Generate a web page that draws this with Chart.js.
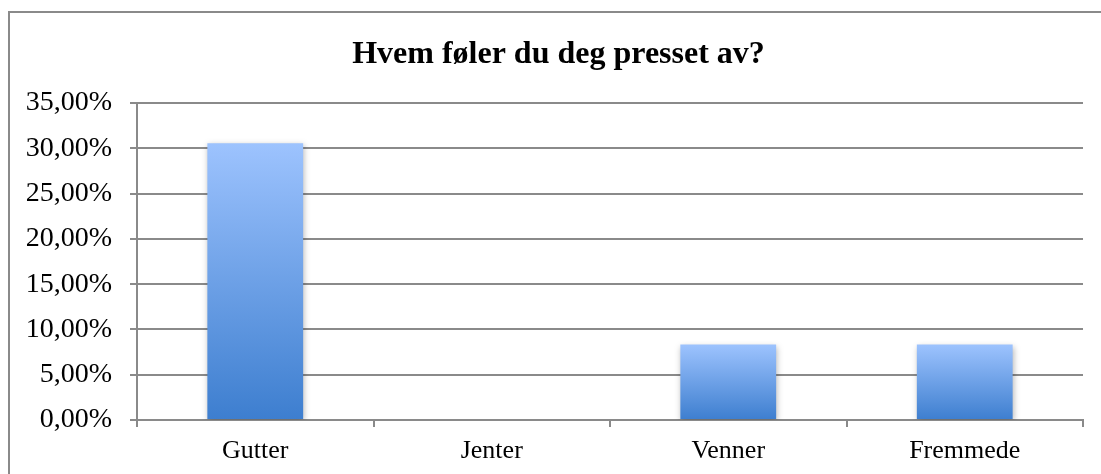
<!DOCTYPE html>
<html>
<head>
<meta charset="utf-8">
<script src="https://cdn.jsdelivr.net/npm/chart.js@4/dist/chart.umd.min.js"></script>
<style>
  html, body { margin: 0; padding: 0; background: #fff; }
  #frame {
    position: absolute; left: 8px; top: 11px;
    width: 1200px; height: 600px;
    border: 2px solid #8a8a8a;
  }
  #wrap { position: absolute; left: 0; top: 0; width: 1101px; height: 474px; }
</style>
</head>
<body>
<div id="frame"></div>
<div id="wrap"><canvas id="chart"></canvas></div>
<script>
const categories = ['Gutter', 'Jenter', 'Venner', 'Fremmede'];
const shares = [30.56, 0, 8.33, 8.33];
const yTicks = [0, 5, 10, 15, 20, 25, 30, 35];
const chartTitle = 'Hvem føler du deg presset av?';

const serif = '"Liberation Serif", "Times New Roman", serif';

// each bar gets its own light-to-dark gradient
function barGradient(context) {
  const chart = context.chart;
  if (!chart.chartArea || !context.parsed) return '#6a9ee8';
  const y = chart.scales.y;
  const top = y.getPixelForValue(context.parsed.y);
  const base = y.getPixelForValue(0);
  if (base - top < 1) return '#6a9ee8';
  const g = chart.ctx.createLinearGradient(0, top, 0, base);
  g.addColorStop(0, '#9dc3fe');
  g.addColorStop(1, '#3d7ecf');
  return g;
}

const barShadow = {
  id: 'barShadow',
  beforeDatasetsDraw(chart) {
    const ctx = chart.ctx;
    ctx.save();
    ctx.shadowColor = 'rgba(0,0,0,0.28)';
    ctx.shadowBlur = 6;
    ctx.shadowOffsetX = 1;
    ctx.shadowOffsetY = 2;
  },
  afterDatasetsDraw(chart) {
    chart.ctx.restore();
  }
};

// title sits a little right of the canvas centre
const titleShift = {
  id: 'titleShift',
  afterLayout(chart) {
    if (chart.titleBlock) chart.titleBlock.left += 24;
  }
};

new Chart(document.getElementById('chart'), {
  type: 'bar',
  data: {
    labels: categories,
    datasets: [{
      data: shares,
      backgroundColor: barGradient,
      borderWidth: 0,
      categoryPercentage: 1,
      barPercentage: 0.405
    }]
  },
  options: {
    responsive: true,
    maintainAspectRatio: false,
    animation: false,
    layout: { padding: { left: 10, right: 18, top: 12, bottom: 6 } },
    plugins: {
      legend: { display: false },
      tooltip: { enabled: false },
      title: {
        display: true,
        text: chartTitle,
        color: '#000',
        font: { family: serif, size: 32, weight: 'bold' },
        padding: { top: 24, bottom: 28.6 }
      }
    },
    scales: {
      y: {
        min: 0,
        max: 35,
        afterBuildTicks(scale) {
          scale.ticks = yTicks.map(v => ({ value: v }));
        },
        afterFit(scale) { scale.width = 127; },
        border: { display: true, color: '#8a8a8a', width: 2 },
        grid: { color: '#8a8a8a', lineWidth: 2, tickLength: 7 },
        ticks: {
          color: '#000',
          padding: 18,
          font: { family: serif, size: 28 },
          callback: v => v.toFixed(2).replace('.', ',') + '%'
        }
      },
      x: {
        afterFit(scale) { scale.height = 48; },
        border: { display: true, color: '#8a8a8a', width: 2 },
        grid: { drawOnChartArea: false, color: '#8a8a8a', lineWidth: 2, tickLength: 7, offset: true },
        ticks: {
          color: '#000',
          padding: 9,
          font: { family: serif, size: 26 }
        }
      }
    }
  },
  plugins: [barShadow, titleShift]
});
</script>
</body>
</html>
